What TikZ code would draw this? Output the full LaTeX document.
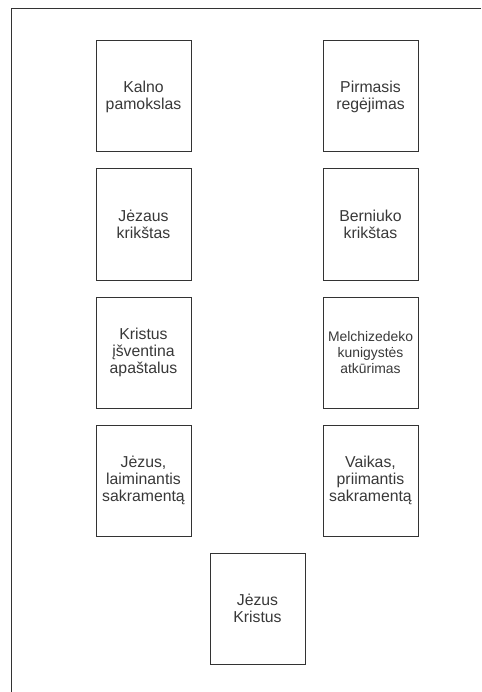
\documentclass[tikz,border=0pt]{standalone}
\usepackage{fontspec}
\setmainfont{Liberation Sans}
\definecolor{boxline}{HTML}{333333}
\definecolor{txt}{HTML}{383838}
\begin{document}
\begin{tikzpicture}[x=1pt,y=-1pt,
  card/.style={draw=boxline, line width=1pt, minimum width=95pt, minimum height=111pt,
    inner sep=0pt, text width=94pt, align=center, text=txt,
    font=\fontsize{15.8pt}{17pt}\selectfont},
  smallcard/.style={card, font=\fontsize{13.9pt}{16.3pt}\selectfont}]
\useasboundingbox (0,0) rectangle (481,692);
\coordinate (ftl) at (11,9);
\coordinate (ftr) at (481,9);
\coordinate (fbl) at (11,692);
\draw[boxline, line width=1pt] (ftr) -- (ftl) -- (fbl);
\node[card] (a1) at (143.5,96.5) {Kalno\\pamokslas};
\node[card] (b1) at (370.5,96.5) {Pirmasis\\regėjimas};
\node[card] (a2) at (143.5,224.5) {Jėzaus\\krikštas};
\node[card] (b2) at (370.5,224.5) {Berniuko\\krikštas};
\node[card] (a3) at (143.5,352.5) {Kristus\\įšventina\\apaštalus};
\node[smallcard] (b3) at (370.5,352.5) {Melchizedeko\\kunigystės\\atkūrimas};
\node[card] (a4) at (143.5,480.5) {Jėzus,\\laiminantis\\sakramentą};
\node[card] (b4) at (370.5,480.5) {Vaikas,\\priimantis\\sakramentą};
\node[card] (c5) at (257.5,608.5) {Jėzus\\Kristus};
\end{tikzpicture}
\end{document}
